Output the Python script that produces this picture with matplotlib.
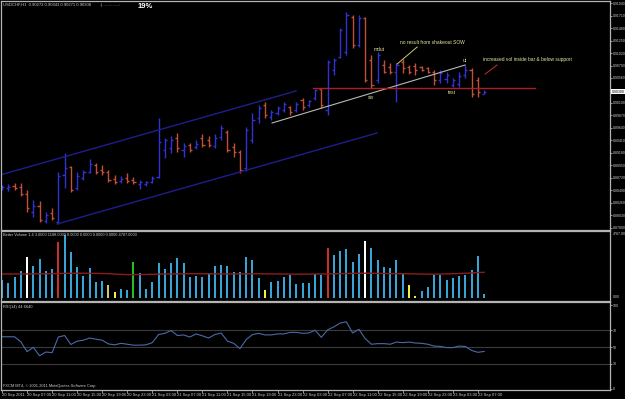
import matplotlib
matplotlib.use("Agg")
import matplotlib.pyplot as plt

plt.rcParams['font.family'] = ['Liberation Sans', 'DejaVu Sans']

# ---------------- data ----------------
symbol_header = "USDCHF,H1  0.90272 0.90343 0.90271 0.90308"
vol_header = "Better Volume 1.4 3.0000 1188.0000 0.0000 0.0000 0.0000 0.0000 4787.0000"
rsi_header = "RSI(14) 44.6640"
copyright_text = "FXCM MT4, \u00a9 2001-2011 MetaQuotes Software Corp."

time_labels = ["20 Sep 2011", "20 Sep 07:00", "20 Sep 11:00", "20 Sep 15:00", "20 Sep 19:00",
               "20 Sep 23:00", "21 Sep 03:00", "21 Sep 07:00", "21 Sep 11:00", "21 Sep 15:00",
               "21 Sep 19:00", "21 Sep 23:00", "22 Sep 03:00", "22 Sep 07:00", "22 Sep 11:00",
               "22 Sep 15:00", "22 Sep 19:00", "22 Sep 23:00", "23 Sep 03:00", "23 Sep 07:00"]

opens = [0.8854, 0.8854, 0.8857, 0.8855, 0.8843, 0.8809, 0.8821, 0.8793, 0.8808, 0.8791,
         0.8878, 0.8892, 0.8854, 0.8872, 0.8883, 0.8896, 0.8887, 0.8883, 0.8870, 0.8867,
         0.8872, 0.8868, 0.8861, 0.8861, 0.8865, 0.8874, 0.8924, 0.8927, 0.8946, 0.8924,
         0.8933, 0.8929, 0.8946, 0.8942, 0.8931, 0.8947, 0.8957, 0.8929, 0.8920, 0.8890,
         0.8942, 0.8982, 0.9006, 0.8984, 0.8992, 0.8997, 0.9003, 0.8997, 0.9016, 0.9006,
         0.9019, 0.9036, 0.8997, 0.9071, 0.9095, 0.9104, 0.9168, 0.9117, 0.9166, 0.9089,
         0.9052, 0.9080, 0.9076, 0.9067, 0.9085, 0.9076, 0.9078, 0.9076, 0.9074, 0.9067,
         0.9052, 0.9054, 0.9043, 0.9045, 0.9062, 0.9071, 0.9052, 0.90272]
highs = [0.8859, 0.8861, 0.8863, 0.8863, 0.8850, 0.8832, 0.8830, 0.8809, 0.8817, 0.8883,
         0.8918, 0.8894, 0.8883, 0.8887, 0.8907, 0.8900, 0.8896, 0.8887, 0.8878, 0.8876,
         0.8881, 0.8874, 0.8868, 0.8867, 0.8876, 0.8982, 0.8946, 0.8949, 0.8955, 0.8936,
         0.8936, 0.8942, 0.8953, 0.8949, 0.8953, 0.8970, 0.8960, 0.8936, 0.8924, 0.8966,
         0.8992, 0.9006, 0.9012, 0.8997, 0.9005, 0.9012, 0.9005, 0.9012, 0.9019, 0.9016,
         0.9036, 0.9036, 0.9089, 0.9093, 0.9148, 0.9177, 0.9172, 0.9172, 0.9168, 0.9098,
         0.9104, 0.9089, 0.9084, 0.9084, 0.9091, 0.9080, 0.9084, 0.9078, 0.9076, 0.9071,
         0.9071, 0.9067, 0.9056, 0.9067, 0.9080, 0.9074, 0.9058, 0.90343]
lows = [0.8850, 0.8848, 0.8850, 0.8839, 0.8809, 0.8800, 0.8791, 0.8789, 0.8795, 0.8787,
        0.8854, 0.8846, 0.8850, 0.8868, 0.8881, 0.8879, 0.8878, 0.8865, 0.8861, 0.8863,
        0.8863, 0.8861, 0.8852, 0.8857, 0.8863, 0.8872, 0.8909, 0.8918, 0.8920, 0.8911,
        0.8920, 0.8925, 0.8929, 0.8929, 0.8927, 0.8942, 0.8920, 0.8911, 0.8881, 0.8885,
        0.8936, 0.8973, 0.8982, 0.8979, 0.8988, 0.8993, 0.8988, 0.8993, 0.8997, 0.9003,
        0.9016, 0.9001, 0.8988, 0.9062, 0.9093, 0.9098, 0.9111, 0.9113, 0.9049, 0.9038,
        0.9047, 0.9065, 0.9063, 0.9012, 0.9065, 0.9063, 0.9062, 0.9069, 0.9065, 0.9043,
        0.9047, 0.9047, 0.9039, 0.9039, 0.9056, 0.9021, 0.9021, 0.90271]
closes = [0.8855, 0.8855, 0.8854, 0.8843, 0.8817, 0.8821, 0.8795, 0.8804, 0.8798, 0.8876,
          0.8890, 0.8850, 0.8876, 0.8883, 0.8898, 0.8883, 0.8883, 0.8868, 0.8865, 0.8870,
          0.8867, 0.8865, 0.8865, 0.8865, 0.8872, 0.8938, 0.8942, 0.8942, 0.8927, 0.8931,
          0.8924, 0.8935, 0.8933, 0.8933, 0.8946, 0.8964, 0.8924, 0.8920, 0.8887, 0.8960,
          0.8979, 0.9001, 0.8988, 0.8993, 0.9001, 0.9008, 0.8993, 0.9008, 0.9003, 0.9014,
          0.9034, 0.9006, 0.9085, 0.9089, 0.9144, 0.9172, 0.9117, 0.9166, 0.9052, 0.9043,
          0.9098, 0.9067, 0.9067, 0.9080, 0.9074, 0.9067, 0.9071, 0.9071, 0.9067, 0.9052,
          0.9065, 0.9062, 0.9052, 0.9060, 0.9071, 0.9027, 0.9030, 0.90308]

volumes = [1400, 1150, 1575, 2075, 3075, 2450, 2975, 2025, 2175, 4200,
           4750, 3450, 2375, 1700, 2250, 1250, 1325, 1025, 500, 675,
           600, 2750, 1925, 675, 1250, 2675, 2175, 2675, 3000, 2650,
           1625, 1700, 1625, 1925, 2400, 2525, 2400, 2000, 2000, 3125,
           2850, 1550, 625, 1200, 1325, 1625, 1775, 1075, 1175, 1150,
           1800, 1775, 3750, 3250, 3525, 3650, 2750, 3325, 4275, 3750,
           2900, 2350, 2300, 2900, 1925, 1000, 200, 575, 850, 1750,
           1750, 1400, 1550, 1700, 1775, 2100, 3200, 350]
vol_codes = ("bbbbwbbbbr" "bbbbbbbkyb" "bgbbbbbbbb" "bbbbbbbbbb"
             "bbybbbbbbb" "bbrbbbbbwb" "bbbbbyybbb" "bbbbbbbb")
vol_ma = [1825, 1825, 1825, 1825, 1830, 1835, 1840, 1845, 1850, 1860,
          1870, 1875, 1880, 1880, 1875, 1870, 1860, 1850, 1820, 1790,
          1780, 1775, 1780, 1790, 1800, 1810, 1820, 1830, 1835, 1840,
          1845, 1845, 1840, 1840, 1835, 1835, 1830, 1830, 1830, 1835,
          1840, 1840, 1835, 1830, 1825, 1820, 1815, 1810, 1810, 1815,
          1820, 1825, 1830, 1840, 1850, 1860, 1870, 1880, 1880, 1875,
          1870, 1860, 1855, 1850, 1845, 1840, 1830, 1820, 1810, 1810,
          1820, 1830, 1845, 1860, 1880, 1900, 1930, 1950]

rsi = [62.2, 62.2, 62.2, 56.3, 44.4, 49.6, 39.6, 44.0, 43.3, 61.9,
       63.7, 53.0, 57.0, 58.1, 60.7, 59.3, 58.1, 53.7, 52.6, 54.4,
       53.3, 52.2, 52.2, 52.6, 55.2, 64.8, 66.3, 69.6, 63.7, 64.4,
       61.9, 65.6, 63.3, 60.7, 64.8, 66.7, 57.0, 54.4, 48.1, 58.9,
       64.8, 66.3, 64.4, 64.4, 65.6, 65.6, 67.4, 67.4, 66.3, 66.7,
       70.0, 61.5, 70.4, 74.0, 78.5, 80.0, 66.7, 71.1, 60.0, 53.3,
       54.0, 54.0, 53.3, 55.9, 55.2, 55.9, 54.8, 54.4, 53.3, 51.1,
       50.7, 49.3, 49.3, 51.1, 50.7, 45.9, 43.7, 44.7]
rsi_levels = [70, 50, 30]

price_ticks = [0.91940, 0.91710, 0.91480, 0.91250, 0.91020, 0.90790, 0.90560, 0.90330,
               0.90100, 0.89870, 0.89640, 0.89410, 0.89180, 0.88950, 0.88720, 0.88490,
               0.88260, 0.88030, 0.87800]

# drawn objects (bar index, price)
channel_upper = ([-0.3, 46.96], [0.88775, 0.90321])
channel_lower = ([8.78, 59.9], [0.87873, 0.89548])
trend_gray = ([43.13, 73.96], [0.89732, 0.90799])
support_red = ([49.7, 85.1], [0.90376, 0.90376])
note_line_1 = ([66.3, 63.1], [0.91130, 0.90817])
note_line_2 = ([79.07, 77.16], [0.90799, 0.90633])
notes = [("mdut", 59.3, 0.91093), ("no result from shakeout SOW", 63.6, 0.91222),
         ("ut", 73.6, 0.90891), ("increased vol inside bar & below support", 76.8, 0.90909),
         ("stv", 58.5, 0.90192), ("test", 71.2, 0.90302)]

# ---------------- figure ----------------
W, H = 625, 399
fig = plt.figure(figsize=(W / 100, H / 100), dpi=100, facecolor='black')


def axes_px(x0, y0, x1, y1):
    return fig.add_axes([x0 / W, 1 - y1 / H, (x1 - x0) / W, (y1 - y0) / H])


ax_p = axes_px(1, 1, 610, 229.5)
ax_v = axes_px(1, 231, 610, 300.5)
ax_r = axes_px(1, 302, 610, 390)

frame_col = '#b4b4b4'
lab_col = '#d0d0d0'
for ax in (ax_p, ax_v, ax_r):
    ax.set_facecolor('black')
    for s in ax.spines.values():
        s.set_color(frame_col)
        s.set_linewidth(0.9)
    ax.set_xlim(-0.16, 97.1)
    ax.yaxis.tick_right()
    ax.tick_params(axis='y', colors=lab_col, labelsize=2.5, length=1.5, width=0.5, pad=0.6)
    ax.tick_params(axis='x', bottom=False, labelbottom=False)

n = len(opens)
idx = list(range(n))
up_col = '#3232d2'
dn_col = '#c0503a'

# price bars
for i in idx:
    c = up_col if closes[i] >= opens[i] else dn_col
    ax_p.vlines(i, lows[i], highs[i], color=c, lw=1.0)
    ax_p.hlines(opens[i], i - 0.34, i, color=c, lw=1.0)
    ax_p.hlines(closes[i], i, i + 0.34, color=c, lw=1.0)

ax_p.plot(*channel_upper, color='#1e1e8e', lw=1.0)
ax_p.plot(*channel_lower, color='#1e1e8e', lw=1.0)
ax_p.plot(*trend_gray, color='#b8b8b8', lw=0.8)
ax_p.plot(*support_red, color='#a82020', lw=1.0)
ax_p.plot(*note_line_1, color='#c8c878', lw=0.7)
ax_p.plot(*note_line_2, color='#a83020', lw=0.8)
for txt, x, y in notes:
    ax_p.text(x, y, txt, color='#e8e89a', fontsize=3.5, va='center', ha='left')

ax_p.set_ylim(0.87772, 0.91977)
ax_p.set_yticks(price_ticks)
# the tick at the current price is covered by the highlighted bid label
ax_p.set_yticklabels(["" if abs(p - closes[-1]) < 0.0005 else f"{p:.5f}" for p in price_ticks])
ax_p.text(1.0025, closes[-1], f"{closes[-1]:.5f}", transform=ax_p.get_yaxis_transform(),
          fontsize=2.5, color='black', va='center', ha='left', clip_on=False,
          bbox=dict(facecolor='white', edgecolor='none', pad=0.5))

# volume
vcolors = {'b': '#38a4d6', 'r': '#c8302a', 'w': '#ffffff', 'y': '#f0f040',
           'k': '#c8c870', 'g': '#22c022'}
ax_v.bar(idx, volumes, width=0.32, color=[vcolors[c] for c in vol_codes])
ax_v.plot(idx, vol_ma, color='#8c1c1c', lw=1.0)
ax_v.set_ylim(-150, 5025)
ax_v.set_yticks([])
ax_v.text(1.004, 0.985, "4787.00", transform=ax_v.transAxes, fontsize=2.5, color=lab_col,
          va='top', ha='left')
ax_v.text(1.004, 0.02, "0.00", transform=ax_v.transAxes, fontsize=2.5, color=lab_col,
          va='bottom', ha='left')

# rsi
for lv in rsi_levels:
    ax_r.axhline(lv, color='#3a3a3a', lw=0.8)
ax_r.plot(idx, rsi, color='#4a6aa8', lw=0.8)
ax_r.set_ylim(-1.2, 103.6)
ax_r.set_yticks([0, 30, 50, 70, 100])
ax_r.set_yticklabels(["0", "30", "50", "70", "100"])
ax_r.set_xticks(list(range(0, n, 4))[:len(time_labels)])
ax_r.set_xticklabels(time_labels)
ax_r.tick_params(axis='x', bottom=True, labelbottom=True, colors=lab_col, labelsize=3,
                 length=2, width=0.5, pad=0.5)
for lab in ax_r.get_xticklabels():
    lab.set_ha('left')

# header texts
fig.text(3 / W, 1 - 5 / H, symbol_header, fontsize=3, color=lab_col, va='center')
fig.text(100 / W, 1 - 5 / H, ":.|.......:.......:", fontsize=3, color='#c0c0c0', va='center')
fig.text(138 / W, 1 - 6 / H, "19%", fontsize=5.5, color='white', va='center', weight='bold')
fig.text(3 / W, 1 - 235 / H, vol_header, fontsize=2.8, color=lab_col, va='center')
fig.text(3 / W, 1 - 307 / H, rsi_header, fontsize=2.8, color=lab_col, va='center')
fig.text(3 / W, 1 - 386 / H, copyright_text, fontsize=2.8, color=lab_col, va='center')

fig.savefig("out.png", dpi=100, facecolor='black')
